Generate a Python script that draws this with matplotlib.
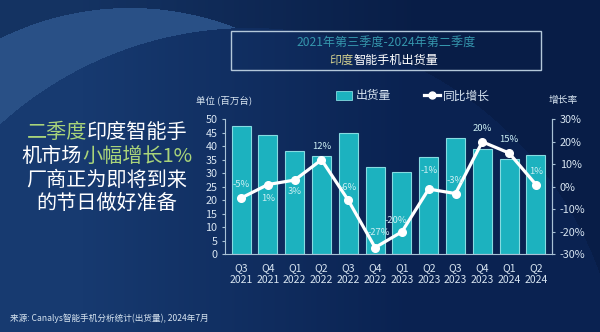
import numpy as np
import matplotlib
matplotlib.use('Agg')
import matplotlib.pyplot as plt
from matplotlib.patches import Rectangle, Patch
from matplotlib.lines import Line2D

plt.rcParams['font.family'] = ['Noto Sans CJK SC', 'DejaVu Sans']

# data
quarters = ['Q3', 'Q4', 'Q1', 'Q2', 'Q3', 'Q4', 'Q1', 'Q2', 'Q3', 'Q4', 'Q1', 'Q2']
years = ['2021', '2021', '2022', '2022', '2022', '2022',
         '2023', '2023', '2023', '2023', '2024', '2024']
shipments = [47.5, 44.3, 38.1, 36.3, 44.8, 32.3, 30.5, 36.1, 43.1, 38.9, 35.4, 36.7]
growth = [-5, 1, 3, 12, -6, -27, -20, -1, -3, 20, 15, 1]
left_ticks = [0, 5, 10, 15, 20, 25, 30, 35, 40, 45, 50]
right_ticks = [-30, -20, -10, 0, 10, 20, 30]

W, H = 600, 332
TXT = '#d8e5f1'
SPINE = '#a9c1d5'
TEAL = '#1cb2bf'
GREEN = '#a9d47a'

fig = plt.figure(figsize=(W / 100, H / 100), dpi=100)
fig.patch.set_facecolor('#0b2453')

# background: navy gradient with a light crescent on the upper left
bg = fig.add_axes([0, 0, 1, 1], zorder=-5)
bg.set_xlim(0, W)
bg.set_ylim(H, 0)
bg.axis('off')
px, py = np.meshgrid(np.arange(W) + 0.5, np.arange(H) + 0.5)
c_left = np.array([0x17, 0x3a, 0x70]) / 255
c_right = np.array([0x0a, 0x22, 0x51]) / 255
t = np.clip(px / 330 - 0.25, 0, 1)[..., None]
img = c_left * (1 - t) + c_right * t
in_a = (px - 130) ** 2 + (py - 300) ** 2 < 292 ** 2
in_b = (px - 250) ** 2 + (py - 400) ** 2 < 372 ** 2
img[~in_b] *= 0.88
img[in_a & ~in_b] = np.array([0x29, 0x50, 0x86]) / 255
bg.imshow(img, extent=[0, W, H, 0], aspect='auto', interpolation='bilinear', zorder=0)
bg.add_patch(Rectangle((230.5, 31), 310.5, 39, fill=False, ec='#b4c8da', lw=1, zorder=3))

# main chart
ax = fig.add_axes([225 / W, 1 - 254.3 / H, 327 / W, 135 / H])
ax.patch.set_alpha(0)
x = np.arange(len(shipments))
ax.bar(x, shipments, width=0.71, color=TEAL, edgecolor='#86dbe1', linewidth=0.8, zorder=2)
ax.set_xlim(-0.6, len(x) - 0.4)
ax.set_ylim(0, 50)
ax.set_yticks(left_ticks)
ax.set_xticks(x)
ax.set_xticklabels([q + '\n' + y for q, y in zip(quarters, years)], linespacing=1.3)
ax.tick_params(axis='y', colors=SPINE, labelcolor=TXT, labelsize=7.8, length=2.5, width=0.8, pad=3)
ax.tick_params(axis='x', length=0, labelcolor=TXT, labelsize=7.5, pad=6)
ax.spines['top'].set_visible(False)
for s in ['left', 'right', 'bottom']:
    ax.spines[s].set_color(SPINE)
    ax.spines[s].set_linewidth(0.8)

ax2 = ax.twinx()
ax2.set_ylim(-30, 30)
ax2.set_yticks(right_ticks)
ax2.set_yticklabels([f'{v}%' for v in right_ticks])
ax2.tick_params(axis='y', colors=SPINE, labelcolor=TXT, labelsize=7.8, length=2.5, width=0.8, pad=3)
for s in ['top', 'left', 'bottom']:
    ax2.spines[s].set_visible(False)
ax2.spines['right'].set_color(SPINE)
ax2.spines['right'].set_linewidth(0.8)
ax2.plot(x, growth, color='white', lw=2.3, marker='o', ms=5.5, zorder=4)

offsets = {1: (0, -10), 2: (0, -8.5), 5: (3, 11), 6: (-4, 8), 7: (0, 13)}
for i, g in enumerate(growth):
    dx, dy = offsets.get(i, (0, 9.5))
    ax2.annotate(f'{g}%', (i, g), xytext=(dx, dy), textcoords='offset points',
                 ha='center', va='center', fontsize=6.8, color='#cdeff3', zorder=5)

# legend
handles = [Patch(facecolor=TEAL, edgecolor='#86dbe1', lw=0.6),
           Line2D([], [], color='white', lw=2.3, marker='o', ms=5)]
fig.legend(handles, ['出货量', '同比增长'], loc='center', bbox_to_anchor=(413 / W, 1 - 96 / H),
           ncol=2, frameon=False, fontsize=8.5, handlelength=1.4, handletextpad=0.25,
           columnspacing=2.8, labelcolor=TXT)

fig.text(196 / W, 1 - 100 / H, '单位 (百万台)', fontsize=6.8, color=TXT, ha='left', va='center')
fig.text(563 / W, 1 - 100 / H, '增长率', fontsize=7, color=TXT, ha='center', va='center')


def color_line(xc, yc, parts, size):
    texts = [fig.text(0, 1 - yc / H, s, color=c, fontsize=size, ha='left', va='center')
             for s, c in parts]
    fig.canvas.draw()
    r = fig.canvas.get_renderer()
    widths = [tt.get_window_extent(r).width for tt in texts]
    start = xc - sum(widths) / 2
    for tt, w in zip(texts, widths):
        tt.set_x(start / W)
        start += w


color_line(386, 42.5, [('2021年第三季度-2024年第二季度', '#3596ad')], 8.7)
color_line(384, 60, [('印度', '#cfcd8e'), ('智能手机出货量', 'white')], 8.7)

color_line(107, 133, [('二季度', GREEN), ('印度智能手', 'white')], 14.5)
color_line(107, 156.5, [('机市场', 'white'), ('小幅增长1%', GREEN)], 14.5)
color_line(107, 180, [('厂商正为即将到来', 'white')], 14.5)
color_line(107, 203, [('的节日做好准备', 'white')], 14.5)

fig.text(9.5 / W, 1 - 318 / H, '来源: Canalys智能手机分析统计(出货量), 2024年7月',
         fontsize=6.2, color=TXT, ha='left', va='center')

fig.savefig('out.png', dpi=100, facecolor=fig.get_facecolor())
